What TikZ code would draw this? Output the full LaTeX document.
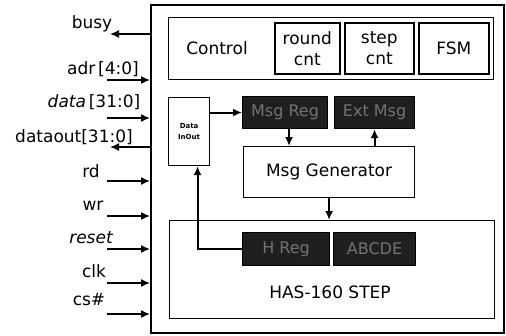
\documentclass[tikz,border=0pt]{standalone}
\usepackage{fontspec}
\setmainfont{DejaVu Sans}
\usetikzlibrary{arrows.meta}
\begin{document}
\begin{tikzpicture}[x=1pt,y=-1pt,
  box/.style={draw=black,line width=1.1pt,inner sep=0pt,anchor=north west,fill=white},
  cbox/.style={box,line width=1.6pt,align=center,font=\fontsize{17}{21}\selectfont},
  dark/.style={box,draw=black,fill=black!88,text=black!55,font=\fontsize{16}{18}\selectfont},
  lbl/.style={font=\fontsize{17}{20}\selectfont,inner sep=0pt},
  sig/.style={lbl,anchor=base},
  arr/.style={line width=1.9pt,-{Latex[length=9pt,width=8pt]}},
  sarr/.style={line width=1.5pt,-{Latex[length=9pt,width=8pt]}}]
\useasboundingbox (0,0) rectangle (506,335);
% main block
\node[box,line width=2.4pt,minimum width=353,minimum height=328] (main) at (150,4) {};
% control
\node[box,minimum width=325,minimum height=62] (ctrl) at (168,17) {};
\node[lbl] (ctrltxt) at (217,48) {Control};
\node[cbox,minimum width=65,minimum height=51] (round) at (274,22) {round\\cnt};
\node[cbox,minimum width=69,minimum height=51] (stepc) at (344,22) {step\\cnt};
\node[cbox,minimum width=70,minimum height=51] (fsm) at (418,22) {FSM};
% data in/out
\node[box,minimum width=41,minimum height=68,align=center,font=\fontsize{7}{11}\selectfont\bfseries] (dio) at (168,97) {Data\\InOut};
% registers
\node[dark,minimum width=85,minimum height=32] (mreg) at (242,96) {Msg Reg};
\node[dark,minimum width=80,minimum height=32] (ext) at (334,96) {Ext Msg};
\node[box,minimum width=171,minimum height=51,font=\fontsize{17}{20}\selectfont] (mgen) at (243,146) {Msg Generator};
% step
\node[box,minimum width=325,minimum height=98] (has) at (169,220) {};
\node[lbl] (hastxt) at (330,292) {HAS-160 STEP};
\node[dark,minimum width=87,minimum height=33] (hreg) at (242,232) {H Reg};
\node[dark,minimum width=82,minimum height=33] (abcde) at (333,232) {ABCDE};
% internal arrows
\draw[arr] (dio.east |- mreg.west) -- (mreg.west);
\draw[arr] ([xshift=4]mreg.south) -- ([xshift=4]mreg.south |- mgen.north);
\draw[arr] (mgen.north -| ext.south) -- (ext.south);
\draw[arr] (mgen.south) -- (mgen.south |- has.north);
\draw[arr] (hreg.west) -| ([xshift=8.5]dio.south);
% signals
\node[sig] (lbusy) at (92,28) {busy};
\node[sig] (ladr) at (103,74) {adr\,[4:0]};
\node[sig] (ldata) at (94,107) {\textit{data}\,[31:0]};
\node[sig] (ldout) at (74,142) {dataout[31:0]};
\node[sig] (lrd) at (91,177) {rd};
\node[sig] (lwr) at (93,210) {wr};
\node[sig,font=\fontsize{17}{20}\selectfont\itshape] (lreset) at (91,243) {reset};
\node[sig] (lclk) at (94,277) {clk};
\node[sig] (lcs) at (89,305) {cs\#};
\coordinate (cbusy) at (110,34);
\coordinate (cadr) at (107,80);
\coordinate (cdata) at (107,118);
\coordinate (cdout) at (110,147);
\coordinate (crd) at (107,181);
\coordinate (cwr) at (107,216);
\coordinate (creset) at (107,249);
\coordinate (cclk) at (107,283);
\coordinate (ccs) at (107,314);
\draw[sarr] (cbusy -| main.west) -- (cbusy);
\draw[sarr] (cadr) -- (cadr -| main.west);
\draw[sarr] (cdata) -- (cdata -| main.west);
\draw[sarr] (cdout -| main.west) -- (cdout);
\draw[sarr] (crd) -- (crd -| main.west);
\draw[sarr] (cwr) -- (cwr -| main.west);
\draw[sarr] (creset) -- (creset -| main.west);
\draw[sarr] (cclk) -- (cclk -| main.west);
\draw[sarr] (ccs) -- (ccs -| main.west);
\end{tikzpicture}
\end{document}
